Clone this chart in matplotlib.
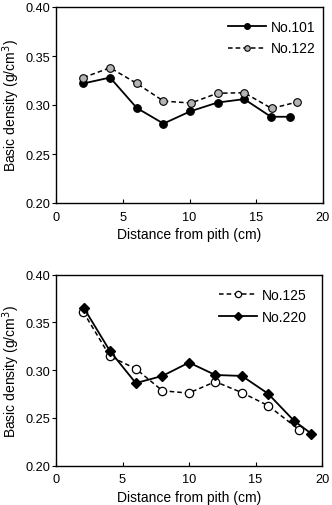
import matplotlib
matplotlib.use("Agg")
import matplotlib.pyplot as plt
from matplotlib.lines import Line2D

plt.rcParams['font.family'] = ['Liberation Sans', 'DejaVu Sans']

# Top panel
x101 = [2.05, 4.05, 6.05, 8.05, 10.05, 12.1, 14.1, 16.1, 17.55]
y101 = [0.322, 0.328, 0.297, 0.281, 0.2935, 0.3025, 0.306, 0.288, 0.288]
x122 = [2.05, 4.05, 6.05, 8.05, 10.1, 12.1, 14.1, 16.15, 18.05]
y122 = [0.328, 0.338, 0.322, 0.304, 0.302, 0.312, 0.3125, 0.2965, 0.303]

# Bottom panel
x125 = [2.05, 4.06, 6.0, 8.0, 9.97, 11.98, 13.98, 15.94, 18.3]
y125 = [0.361, 0.3145, 0.3015, 0.2785, 0.276, 0.288, 0.2765, 0.263, 0.2375]
x220 = [2.1, 4.06, 6.0, 8.0, 10.0, 11.98, 13.98, 15.94, 17.9, 19.2]
y220 = [0.365, 0.320, 0.2865, 0.294, 0.308, 0.295, 0.294, 0.2755, 0.247, 0.2335]

xticks = [0, 5, 10, 15, 20]
yticks = [0.20, 0.25, 0.30, 0.35, 0.40]
ylabels = ['0.20', '0.25', '0.30', '0.35', '0.40']
xlabel = 'Distance from pith (cm)'
ylabel = 'Basic density (g/cm$^3$)'

fig = plt.figure(figsize=(3.32, 5.06), dpi=100)
ax1 = fig.add_axes([56/332, 1-204/506, 267/332, 196/506])
ax2 = fig.add_axes([56/332, 1-466.7/506, 266/332, 191/506])

tfs = 9.2
lfs = 10

def style(ax):
    ax.set_xlim(0, 20)
    ax.set_ylim(0.20, 0.40)
    ax.set_xticks(xticks)
    ax.set_yticks(yticks)
    ax.set_yticklabels(ylabels)
    ax.tick_params(axis='x', direction='in', length=3, width=0.8, labelsize=tfs, pad=5.5)
    ax.tick_params(axis='y', direction='out', length=3, width=0.8, labelsize=tfs, pad=1)
    for s in ax.spines.values():
        s.set_linewidth(1.0)
        s.set_color('black')
    ax.set_xlabel(xlabel, fontsize=lfs, labelpad=3)
    ax.set_ylabel(ylabel, fontsize=lfs)
    ax.yaxis.set_label_coords(-0.128, 0.5)

ax1.plot(x101, y101, '-', color='black', lw=1.3, marker='o', ms=5.5,
         mfc='black', mec='black', mew=0.8)
ax1.plot(x122, y122, '--', color='black', lw=1.1, marker='o', ms=5.5,
         mfc='#b4b4b4', mec='black', mew=0.8, dashes=(3, 2))
style(ax1)
h1 = [Line2D([], [], color='black', lw=1.3, marker='o', ms=4, mfc='black', mec='black'),
      Line2D([], [], color='black', lw=1.1, ls='--', dashes=(3, 2), marker='o', ms=4,
             mfc='#b4b4b4', mec='black', mew=0.8)]
ax1.legend(h1, ['No.101', 'No.122'], loc='upper right', frameon=False, fontsize=lfs,
           handlelength=2.8, handletextpad=0.3, labelspacing=0.55,
           borderpad=0, borderaxespad=0, bbox_to_anchor=(0.972, 0.935))

ax2.plot(x125, y125, '--', color='black', lw=1.1, marker='o', ms=6,
         mfc='white', mec='black', mew=0.9, dashes=(3, 2))
ax2.plot(x220, y220, '-', color='black', lw=1.3, marker='D', ms=5,
         mfc='black', mec='black')
style(ax2)
h2 = [Line2D([], [], color='black', lw=1.1, ls='--', dashes=(3, 2), marker='o', ms=4.5,
             mfc='white', mec='black', mew=0.9),
      Line2D([], [], color='black', lw=1.3, marker='D', ms=4, mfc='black', mec='black')]
ax2.legend(h2, ['No.125', 'No.220'], loc='upper right', frameon=False, fontsize=lfs,
           handlelength=2.8, handletextpad=0.3, labelspacing=0.55,
           borderpad=0, borderaxespad=0, bbox_to_anchor=(0.942, 0.93))

fig.savefig('out.png', dpi=100)
